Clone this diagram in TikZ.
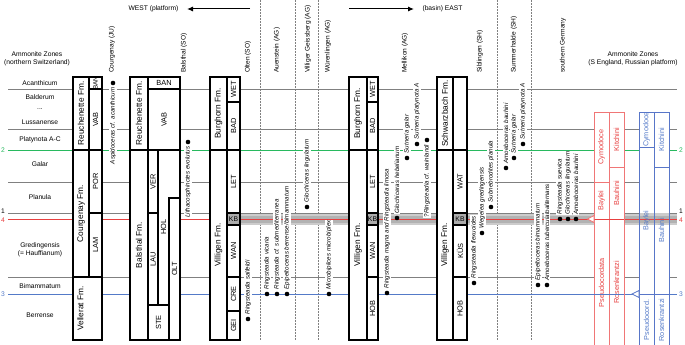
\documentclass[tikz,border=0pt]{standalone}
\usepackage{fontspec}
\setmainfont{Liberation Sans}
\setsansfont{Liberation Sans}
\usepackage{tikz}
\usetikzlibrary{arrows.meta, positioning, fit}
\definecolor{zonegray}{RGB}{128,128,128}
\definecolor{zonegreen}{RGB}{40,185,95}
\definecolor{zonered}{RGB}{232,64,64}
\definecolor{zoneblue}{RGB}{84,122,200}
\definecolor{boxred}{RGB}{240,118,118}
\definecolor{boxblue}{RGB}{88,118,200}
% column box: style, name, x1, y1, x2, y2, text
\newcommand{\unitcol}[7]{\node[#1, fit={(#3,#4) (#5,#6)}, label={[#1 txt]center:#7}] (#2) {};}
% taxon with the dot below or above its name
\newcommand{\taxonup}[4]{%
  \node[dot] (#1) at (#2,#3) {};
  \node[taxon, anchor=west] (#1-t) at ([yshift=1.2pt]#1.north) {#4};}
\newcommand{\taxondown}[4]{%
  \node[dot] (#1) at (#2,#3) {};
  \node[taxon, anchor=east] (#1-t) at ([yshift=-1.2pt]#1.south) {#4};}

\begin{document}
\begin{tikzpicture}[x=1pt, y=-1pt,
  unit/.style={draw, line width=1.1pt, fill=white, inner sep=0pt},
  fm/.style={unit},
  fm txt/.style={rotate=90, font=\fontsize{8.3}{9}\selectfont},
  fmv/.style={unit},
  fmv txt/.style={xshift=-7pt, rotate=90, font=\fontsize{8.3}{9}\selectfont},
  mb/.style={unit},
  mb txt/.style={rotate=90, font=\fontsize{7.4}{8}\selectfont},
  mbs/.style={unit},
  mbs txt/.style={rotate=90, font=\fontsize{6.3}{7}\selectfont},
  mbh/.style={unit},
  mbh txt/.style={font=\fontsize{7.4}{8}\selectfont},
  kb/.style={unit, fill=gray!65},
  kb txt/.style={font=\fontsize{6.8}{8}\selectfont},
  rz/.style={draw=boxred, line width=0.8pt, fill=white, inner sep=0pt},
  rz txt/.style={rotate=90, text=zonered, font=\fontsize{7.3}{8}\selectfont},
  bz/.style={draw=boxblue, line width=0.8pt, inner sep=0pt},
  bz txt/.style={rotate=90, text=zoneblue, font=\fontsize{7.3}{8}\selectfont},
  zone/.style={font=\fontsize{6.7}{8}\selectfont, align=center},
  site/.style={rotate=90, anchor=west, inner sep=0pt, font=\fontsize{6.6}{8}\selectfont},
  hdr/.style={font=\fontsize{6.7}{8}\selectfont},
  num/.style={font=\fontsize{6.7}{8}\selectfont, inner sep=0pt},
  taxon/.style={rotate=90, fill=white, inner sep=0.8pt, font=\fontsize{6.2}{7}\selectfont\itshape},
  dot/.style={circle, fill=black, inner sep=0pt, minimum size=4.6pt},
  zline/.style={zonegray, line width=0.8pt},
  sep/.style={densely dotted, gray, line width=0.5pt},
  dir/.style={-{Latex[length=6pt, width=5pt]}, line width=1pt, shorten >=5pt}
]
\useasboundingbox (0,0) rectangle (685,345);

%--- Direction arrows ---
\node[hdr, anchor=east] (west) at (182,9) {WEST (platform)};
\coordinate (westtail) at (250,9);
\draw[dir] (westtail) -- (west);
\node[hdr, anchor=west] (east) at (419,9) {(basin) EAST};
\coordinate (easttail) at (349,9);
\draw[dir] (easttail) -- (east);

%--- Dotted section separators ---
\draw[sep] (260,0) -- (260,340);
\draw[sep] (295,0) -- (295,340);
\draw[sep] (318,0) -- (318,340);
\draw[sep] (497,0) -- (497,340);
\draw[sep] (531,0) -- (531,340);

%--- KB band ---
\fill[gray!40] (240,213) rectangle (677,225);
\fill[gray!60] (240,215.5) rectangle (677,222.5);

%--- Zone boundaries ---
\draw[zline] (8,89) -- (677,89);
\draw[zline] (8,129) -- (639,129);
\draw[zline] (8,182) -- (639,182);
\draw[zline] (8,213) -- (639,213);
\draw[zline] (8,277) -- (639,277);
\draw[zline] (669,129) -- (677,129);
\draw[zline] (669,182) -- (677,182);
\draw[zline] (669,213) -- (677,213);
\draw[zline] (669,277) -- (677,277);
\draw[zonegreen, line width=0.9pt] (8,150) -- (639,150);
\draw[zonegreen, line width=0.9pt] (669,150) -- (677,150);
\draw[zonered, line width=0.9pt] (8,219) -- (677,219);
\draw[zoneblue, line width=0.9pt] (8,294) -- (677,294);

%--- Courgenay (JU) ---
\unitcol{fm}{rauC}{73}{77}{89}{150}{Reuchenette Fm.}
\unitcol{mb}{vabC}{89}{89}{102}{150}{VAB}
\unitcol{mbs}{banC}{89}{77}{102}{89}{BAN}
\unitcol{fm}{courg}{73}{150}{89}{277}{Courgenay Fm.}
\unitcol{mb}{porC}{89}{150}{102}{213}{POR}
\unitcol{mb}{lamC}{89}{213}{102}{277}{LAM}
\unitcol{fmv}{vell}{73}{277}{102}{340}{Vellerat Fm.}

%--- Balsthal (SO) ---
\unitcol{fm}{rauB}{130}{77}{148}{150}{Reuchenette Fm.}
\unitcol{mbh}{banB}{148}{77}{180}{89}{BAN}
\unitcol{mb}{vabB}{148}{89}{180}{150}{VAB}
\unitcol{fm}{bals}{130}{150}{148}{340}{Balsthal Fm.}
\draw[line width=1.1pt, fill=white] (158,150) -| (180,198) -| (169,305) -| (158,150);
\node[rotate=90, font=\fontsize{7.4}{8}\selectfont] (holB) at (163.5,227) {HOL};
\unitcol{mb}{verB}{148}{150}{158}{213}{VER}
\unitcol{mb}{lauB}{148}{213}{158}{305}{LAU}
\unitcol{mb}{oltB}{169}{198}{180}{340}{OLT}
\unitcol{mb}{steB}{148}{305}{169}{340}{STE}

%--- Olten (SO) ---
\unitcol{fm}{burO}{210}{77}{227}{150}{Burghorn Fm.}
\unitcol{mb}{wetO}{227}{77}{240}{102}{WET}
\unitcol{mb}{badO}{227}{102}{240}{150}{BAD}
\unitcol{fm}{vilO}{210}{150}{227}{340}{Villigen Fm.}
\unitcol{mb}{letO}{227}{150}{240}{213}{LET}
\unitcol{kb}{kbO}{227}{213}{240}{225}{KB}
\unitcol{mb}{wanO}{227}{225}{240}{277}{WAN}
\unitcol{mb}{creO}{227}{277}{240}{311}{CRE}
\unitcol{mb}{geiO}{227}{311}{240}{340}{GEI}

%--- Mellikon (AG) ---
\unitcol{fm}{burM}{349}{77}{367}{150}{Burghorn Fm.}
\unitcol{mb}{wetM}{367}{77}{378}{102}{WET}
\unitcol{mb}{badM}{367}{102}{378}{150}{BAD}
\unitcol{fm}{vilM}{349}{150}{367}{340}{Villigen Fm.}
\unitcol{mb}{letM}{367}{150}{378}{213}{LET}
\unitcol{kb}{kbM}{367}{213}{378}{225}{KB}
\unitcol{mb}{wanM}{367}{225}{378}{277}{WAN}
\unitcol{mb}{hobM}{367}{277}{378}{340}{HOB}

%--- Siblingen (SH) ---
\unitcol{fm}{schS}{437}{77}{453}{150}{Schwarzbach Fm.}
\unitcol{mb}{topS}{453}{77}{467}{150}{}
\unitcol{fm}{vilS}{437}{150}{453}{340}{Villigen Fm.}
\unitcol{mb}{watS}{453}{150}{467}{213}{WAT}
\unitcol{kb}{kbS}{453}{213}{467}{225}{KB}
\unitcol{mb}{kusS}{453}{225}{467}{277}{KÜS}
\unitcol{mb}{hobS}{453}{277}{467}{340}{HOB}

%--- S England zones (red) ---
\unitcol{rz}{cymR}{594}{112}{609}{182}{Cymodoce}
\unitcol{rz}{bayR}{594}{182}{609}{219}{Baylei}
\unitcol{rz}{psR}{594}{219}{609}{346}{Pseudocordata}
\unitcol{rz}{kitR}{609}{112}{624}{167}{Kitchini}
\unitcol{rz}{bauR}{609}{167}{624}{219}{Bauhini}
\unitcol{rz}{rosR}{609}{219}{624}{346}{Rosenkrantzi}
\draw[zonered, line width=0.9pt] (594,219) -- (624,219);
\draw[zoneblue, line width=0.9pt] (594,294) -- (624,294);

%--- Russian platform zones (blue) ---
\unitcol{bz}{cymB}{639}{112}{654}{147}{Cymodoce}
\unitcol{bz}{bayB}{639}{147}{654}{294}{Baylei}
\unitcol{bz}{psB}{639}{294}{654}{346}{Pseudocord.}
\unitcol{bz}{kitB}{654}{112}{669}{167}{Kitchini}
\unitcol{bz}{bauB}{654}{167}{669}{294}{Bauhini}
\unitcol{bz}{rosB}{654}{294}{669}{346}{Rosenkrantzi}

% base markers
\draw[boxred, fill=white, line width=0.8pt] (594,215.5) -- (587.5,219) -- (594,222.5) -- cycle;
\draw[boxblue, fill=white, line width=0.8pt] (639,290.5) -- (632,294) -- (639,297.5) -- cycle;

%--- Taxa ---
\taxondown{acan}{113}{83}{Aspidoceras cf. acanthicum}
\taxondown{evol}{188}{142}{Lithacosphinctes evolutus}
\taxonup{salf}{248}{319}{Ringsteadia salfeldi}
\taxonup{vica}{267}{294}{Ringsteadia vicaria}
\taxonup{subm}{277}{294}{Ringsteadia cf. submediterranea}
\taxonup{berr}{287}{294}{Epipeltoceras berrense/bimammatum}
\taxonup{lingV}{307}{207}{Glochiceras lingulatum}
\taxonup{micr}{329}{294}{Microbiplices microbiplex}
\taxonup{magn}{387}{293}{Ringsteadia magna and Ringsteadia limosa}
\taxonup{hebe}{397}{218}{Glochiceras hebelianum}
\taxonup{galM}{407}{158}{Sutneria galar}
\taxonup{platM}{417}{144}{Sutneria platynota A}
\taxondown{wain}{427}{140}{?Ringsteadia cf. wainlandi}
\taxonup{flex}{474}{283}{Ringsteadia flexuoides}
\taxonup{gred}{482}{233}{Wegelea gredingensis}
\taxonup{plan}{491}{207}{Subnebrodites planula}
\taxonup{bauS}{506}{168}{Amoeboceras bauhini}
\taxonup{galS}{514}{158}{Sutneria galar}
\taxonup{platS}{523}{144}{Sutneria platynota A}
\taxonup{bima}{538}{285}{Epipeltoceras bimammatum}
\taxonup{tube}{547}{285}{Amoeboceras tuberculatoalternans}
\taxonup{suev}{560}{219}{Ringsteadia suevica}
\taxonup{lingG}{568}{219}{Glochiceras lingulatum}
\taxonup{bauG}{576}{219}{Amoeboceras bauhini}

%--- Section names ---
\node[site] (sCourg) at (112,73) {Courgenay (JU)};
\node[site] (sBals) at (184,73) {Balsthal (SO)};
\node[site] (sOlten) at (248,73) {Olten (SO)};
\node[site] (sAuen) at (277,73) {Auenstein (AG)};
\node[site] (sVill) at (308,73) {Villiger Geissberg (AG)};
\node[site] (sWuer) at (328,73) {Würenlingen (AG)};
\node[site] (sMell) at (405,73) {Mellikon (AG)};
\node[site] (sSibl) at (480,73) {Siblingen (SH)};
\node[site] (sSumm) at (514,73) {Summerhalde (SH)};
\node[site] (sGer) at (563,73) {southern Germany};

%--- Zone names ---
\node[zone] (hdrL) at (37,59) {Ammonite Zones\\(northern Switzerland)};
\node[zone] (hdrR) at (633,59) {Ammonite Zones\\(S England, Russian platform)};
\node[zone] (zAca) at (40,83) {Acanthicum};
\node[zone] (zBal) at (40,97) {Balderum};
\node[zone] (zDots) at (40,109) {...};
\node[zone] (zLus) at (40,122) {Lussanense};
\node[zone] (zPla) at (40,140) {Platynota A-C};
\node[zone] (zGal) at (40,164) {Galar};
\node[zone] (zPlan) at (40,197) {Planula};
\node[zone] (zGre) at (40,250) {Gredingensis\\(= Hauffianum)};
\node[zone] (zBim) at (40,286) {Bimammatum};
\node[zone] (zBer) at (40,315) {Berrense};

%--- Horizon numbers ---
\node[num, text=zonegreen] (n2L) at (3,150) {2};
\node[num] (n1L) at (3,211.5) {1};
\node[num, text=zonered] (n4L) at (3,220.5) {4};
\node[num, text=zoneblue] (n3L) at (3,294) {3};
\node[num, text=zonegreen] (n2R) at (681,150) {2};
\node[num] (n1R) at (681,211.5) {1};
\node[num, text=zonered] (n4R) at (681,220.5) {4};
\node[num, text=zoneblue] (n3R) at (681,294) {3};

\end{tikzpicture}
\end{document}
